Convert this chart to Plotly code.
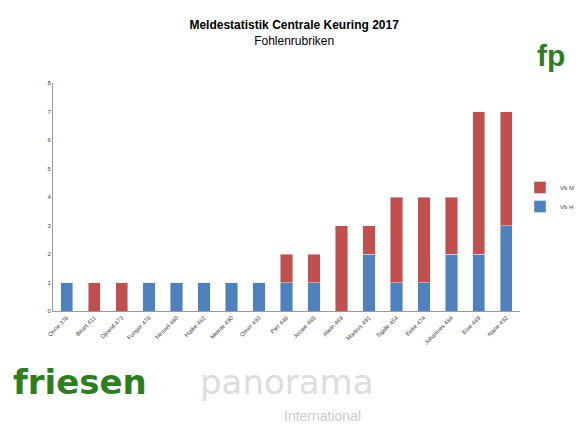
import plotly.graph_objects as go

categories = ["Onne 376","Beart 411","Djoerd 473","Fonger 478","Hessel 480","Haike 482","Meinte 490","Omer 493","Pier 448","Jouwe 485","Alwin 469","Markus 491","Tsjalle 454","Eeke 474","Johannes 484","Eise 489","Nane 492"]
vb_h = [1,0,0,1,1,1,1,1,1,1,0,2,1,1,2,2,3]
vb_m = [0,1,1,0,0,0,0,0,1,1,3,1,3,3,2,5,4]

fig = go.Figure()
fig.add_bar(x=categories, y=vb_h, name="Vb H", marker_color="#4F81BD")
fig.add_bar(x=categories, y=vb_m, name="Vb M", marker_color="#C0504D")
fig.update_layout(
    barmode="stack", width=584, height=424, bargap=0.55,
    paper_bgcolor="white", plot_bgcolor="white",
    margin=dict(l=45, r=64, t=75, b=121),
    font=dict(family="Liberation Sans", size=6, color="#444"),
    title=dict(text="<b>Meldestatistik Centrale Keuring 2017</b><br>Fohlenrubriken",
               x=0.49, y=0.95, xanchor="center", font=dict(size=12, color="black")),
    legend=dict(x=1.0, y=0.5, xanchor="left", yanchor="middle", traceorder="reversed",
                font=dict(size=6)),
    showlegend=True,
)
fig.update_xaxes(tickangle=-45, showline=True, linecolor="#999", tickfont=dict(size=6))
fig.update_yaxes(range=[0,8], dtick=1, showgrid=False, showline=True, linecolor="#999",
                 zeroline=False, tickfont=dict(size=6))
fig.add_annotation(text="<b>friesen</b>", xref="paper", yref="paper", x=-0.09, y=-0.41,
                   xanchor="left", showarrow=False, font=dict(size=34, color="#2E7D1E", family="DejaVu Sans"))
fig.add_annotation(text="panorama", xref="paper", yref="paper", x=0.31, y=-0.41,
                   xanchor="left", showarrow=False, font=dict(size=34, color="#ddd", family="DejaVu Sans"))
fig.add_annotation(text="International", xref="paper", yref="paper", x=0.49, y=-0.505,
                   xanchor="left", showarrow=False, font=dict(size=14, color="#ccc"))
fig.add_annotation(text="<b>fp</b>", xref="paper", yref="paper", x=1.1, y=1.2,
                   xanchor="right", showarrow=False, font=dict(size=30, color="#2E7D1E"))
fig.write_html("out.html")
